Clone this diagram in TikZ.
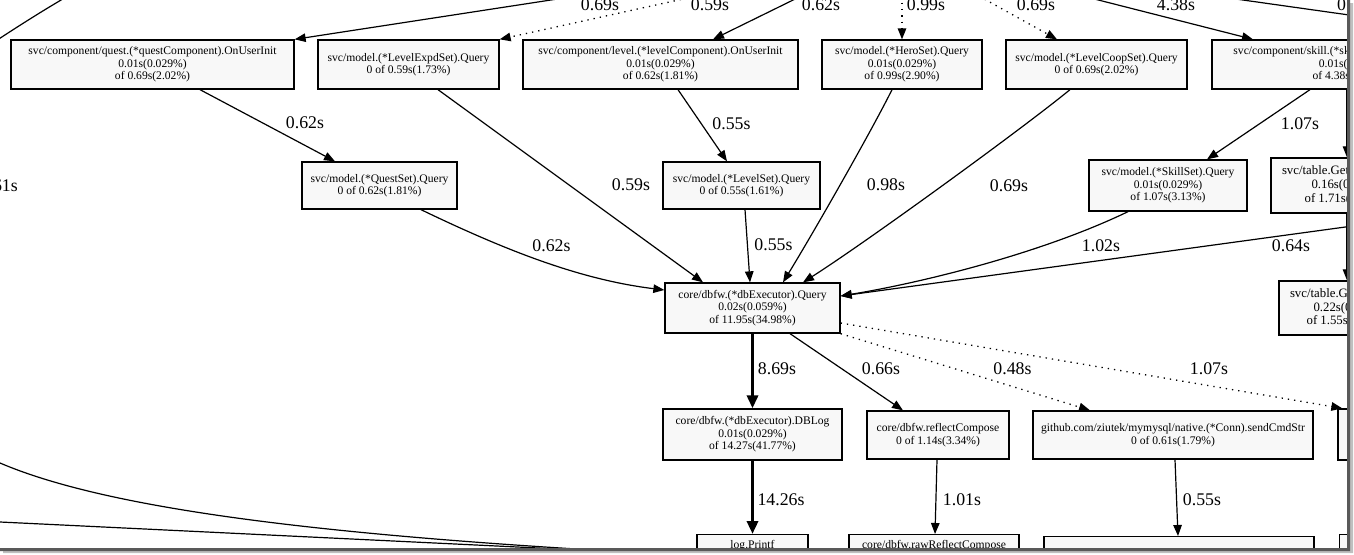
\documentclass[tikz,border=0pt]{standalone}
\usepackage{fontspec}
\setmainfont{Liberation Serif}
\usetikzlibrary{arrows.meta}
\definecolor{nodeFill}{HTML}{F8F8F8}

\begin{document}
\begin{tikzpicture}[x=1pt,y=-1pt,
    >={Triangle[length=11pt,width=8.5pt]},
    fn/.style={draw,line width=1.3pt,fill=nodeFill,align=center,inner sep=0pt,font=\fontsize{11.6}{12.5}\selectfont},
    big/.style={font=\fontsize{12.8}{13.6}\selectfont},
    lbl/.style={inner sep=0pt,font=\fontsize{17.8}{20}\selectfont},
    call/.style={line width=1.2pt},
    hot/.style={line width=3.4pt,-{Triangle[length=13pt,width=11pt]}},
    inl/.style={line width=1.3pt,dash pattern=on 1.3pt off 5pt}]
\useasboundingbox (0,0) rectangle (1354,554);
\begin{scope}
\clip (0,0) rectangle (1347,548);
    \node[fn,minimum width=283,minimum height=49] (questInit) at (152.5,64.5) {svc/component/quest.(*questComponent).OnUserInit\\0.01s(0.029\%)\\of 0.69s(2.02\%)};
    \node[fn,minimum width=181,minimum height=49] (levelExpd) at (408.5,64.5) {svc/model.(*LevelExpdSet).Query\\0 of 0.59s(1.73\%)};
    \node[fn,minimum width=275,minimum height=49] (levelInit) at (660.5,64.5) {svc/component/level.(*levelComponent).OnUserInit\\0.01s(0.029\%)\\of 0.62s(1.81\%)};
    \node[fn,minimum width=160,minimum height=49] (heroSet) at (902,64.5) {svc/model.(*HeroSet).Query\\0.01s(0.029\%)\\of 0.99s(2.90\%)};
    \node[fn,minimum width=181,minimum height=49] (levelCoop) at (1096.5,64.5) {svc/model.(*LevelCoopSet).Query\\0 of 0.69s(2.02\%)};
    \node[fn,minimum width=282,minimum height=49] (skillInit) at (1353,64.5) {svc/component/skill.(*skillComponent).OnUserInit\\0.01s(0.029\%)\\of 4.38s(12.82\%)};
    \node[fn,minimum width=155,minimum height=47] (questSet) at (379.5,185.5) {svc/model.(*QuestSet).Query\\0 of 0.62s(1.81\%)};
    \node[fn,minimum width=157,minimum height=47] (levelSet) at (741.5,185.5) {svc/model.(*LevelSet).Query\\0 of 0.55s(1.61\%)};
    \node[fn,minimum width=158,minimum height=51] (skillSet) at (1168,185.5) {svc/model.(*SkillSet).Query\\0.01s(0.029\%)\\of 1.07s(3.13\%)};
    \node[fn,big,minimum width=150,minimum height=55] (tableGet) at (1346,185.5) {\makebox[128pt][l]{svc/table.Get}\\0.16s(0.47\%)\\of 1.71s(5.01\%)};
    \node[fn,big,minimum width=138,minimum height=54] (tableGetB) at (1348,308) {\makebox[116pt][l]{svc/table.G}\\0.22s(0.64\%)\\of 1.55s(4.54\%)};
    \node[fn,minimum width=175,minimum height=50] (main) at (752.5,308) {core/dbfw.(*dbExecutor).Query\\0.02s(0.059\%)\\of 11.95s(34.98\%)};
    \node[fn,minimum width=179,minimum height=51] (dbLog) at (752.5,434.5) {core/dbfw.(*dbExecutor).DBLog\\0.01s(0.029\%)\\of 14.27s(41.77\%)};
    \node[fn,minimum width=142,minimum height=48] (reflect) at (938,435) {core/dbfw.reflectCompose\\0 of 1.14s(3.34\%)};
    \node[fn,minimum width=280,minimum height=48] (sendCmd) at (1173,435) {github.com/ziutek/mymysql/native.(*Conn).sendCmdStr\\0 of 0.61s(1.79\%)};
    \node[fn,minimum width=160,minimum height=51] (rightCut) at (1418,434.5) {};
    \node[fn,anchor=north,minimum width=111,inner ysep=5pt,text height=9pt,text depth=23pt] (logPrintf) at (752.5,534) {log.Printf};
    \node[fn,anchor=north,minimum width=170,inner ysep=5pt,text height=9pt,text depth=23pt] (rawReflect) at (934,534) {core/dbfw.rawReflectCompose};
    \node[fn,anchor=north,minimum width=270,minimum height=48] (sendNext) at (1179,536) {};
    \node[fn,anchor=north west,minimum width=150,minimum height=48] (bottomCut) at (1339,534) {};

    \coordinate (inQuest) at (616,-10);
    \coordinate (inExpd) at (724,-10);
    \coordinate (inLevel) at (813.5,-10);
    \coordinate (inHero) at (902,-10);
    \coordinate (inCoop) at (968,-10);
    \coordinate (inSkill) at (1059,-10);
    \coordinate (outRightA) at (1172,-10);
    \coordinate (outRightB) at (1420,25);
    \coordinate (inRight) at (1360,225);
    \coordinate (arcTop) at (96,-20);
    \coordinate (arcLeft) at (-30,58);
    \coordinate (leftInA) at (0,463);
    \coordinate (leftInB) at (0,522);

    \node[lbl] (lQuestIn) at (600,5) {0.69s};
    \node[lbl] (lExpdIn) at (710,5) {0.59s};
    \node[lbl] (lLevelIn) at (821,5) {0.62s};
    \node[lbl] (lHeroIn) at (926,5) {0.99s};
    \node[lbl] (lCoopIn) at (1036,5) {0.69s};
    \node[lbl] (lSkillIn) at (1176,5) {4.38s};
    \node[lbl,anchor=west] (lRightOut) at (1337,5) {0.};
    \node[lbl,anchor=east] (lLeftArc) at (18,185.5) {61s};
    \node[lbl] (lQuestSet) at (305,122.5) {0.62s};
    \node[lbl] (lExpdMain) at (631,185) {0.59s};
    \node[lbl] (lLevelSet) at (731.5,123.5) {0.55s};
    \node[lbl] (lLevelMain) at (773.5,245) {0.55s};
    \node[lbl] (lHeroMain) at (886,185) {0.98s};
    \node[lbl] (lCoopMain) at (1009,186) {0.69s};
    \node[lbl] (lSkillSet) at (1300,123.5) {1.07s};
    \node[lbl] (lQuestMain) at (551.5,246) {0.62s};
    \node[lbl] (lSkillMain) at (1101,246) {1.02s};
    \node[lbl] (lRightMain) at (1291,246) {0.64s};
    \node[lbl] (lDbLog) at (777,369) {8.69s};
    \node[lbl] (lReflect) at (881,369) {0.66s};
    \node[lbl] (lSendCmd) at (1012.5,369) {0.48s};
    \node[lbl] (lRightCut) at (1209,369) {1.07s};
    \node[lbl] (lPrintf) at (781,500) {14.26s};
    \node[lbl] (lRawReflect) at (962,500) {1.01s};
    \node[lbl] (lSendNext) at (1202,500) {0.55s};


\draw[->,call] (inQuest) -- (questInit.north east);
\draw[->,inl] (inExpd) -- (levelExpd.north east);
\draw[->,call] (inLevel) -- ([xshift=52.5pt]levelInit.north);
\draw[->,inl] (inHero) -- (heroSet.north);
\draw[->,inl] (inCoop) -- ([xshift=-39.5pt]levelCoop.north);
\draw[->,call] (inSkill) -- ([xshift=-100pt]skillInit.north);
\draw[->,call] (outRightA) -- (outRightB);
\draw[call] (arcTop) .. controls (60,0) and (30,18) .. (arcLeft);
\draw[->,call] (leftInA) .. controls (110,510) and (330,537) .. (logPrintf.west);
\draw[->,call] (leftInB) -- (logPrintf.west);
\draw[->,call] ([xshift=47.5pt]questInit.south) -- ([xshift=-44.5pt]questSet.north);
\draw[->,call] ([xshift=29.5pt]levelExpd.south) -- ([xshift=-49.5pt]main.north);
\draw[->,call] ([xshift=17.5pt]levelInit.south) -- ([xshift=-14.5pt]levelSet.north);
\draw[->,call] ([xshift=3.5pt]levelSet.south) -- ([xshift=-2.5pt]main.north);
\draw[->,call] ([xshift=-10pt]heroSet.south) .. controls (872,130) and (815,230) .. ([xshift=30.5pt]main.north);
\draw[->,call] ([xshift=-26.5pt]levelCoop.south) .. controls (1022,129) and (865,243) .. ([xshift=50.5pt]main.north);
\draw[->,call] ([xshift=-43pt]skillInit.south) -- ([xshift=39pt]skillSet.north);
\draw[->,call] ([xshift=-6pt]skillInit.south) -- ([xshift=1pt]tableGet.north);
\draw[->,call] ([xshift=1pt]tableGet.south) -- ([xshift=-1pt]tableGetB.north);
\draw[->,call] ([xshift=-40pt]skillSet.south) .. controls (1040,254) and (920,283) .. ([yshift=12pt]main.east);
\draw[->,call] (inRight) -- ([yshift=12pt]main.east);
\draw[->,call] ([xshift=41.5pt]questSet.south) .. controls (511,253) and (583,280) .. ([yshift=18pt]main.west);
\draw[hot] (main) -- (dbLog);
\draw[->,call] ([xshift=37.5pt]main.south) -- ([xshift=-35pt]reflect.north);
\draw[->,inl] (main.south east) -- ([xshift=-83pt]sendCmd.north);
\draw[->,inl] ([yshift=-15pt]main.east) -- ([xshift=5pt]rightCut.north west);
\draw[hot] (dbLog) -- (logPrintf);
\draw[->,call] ([xshift=-1pt]reflect.south) -- ([xshift=1pt]rawReflect.north);
\draw[->,call] ([xshift=2pt]sendCmd.south) -- ([xshift=-1pt]sendNext.north);
\end{scope}

\fill[black!25] (1350,3) rectangle (1353,553) (3,551) rectangle (1353,553);
\fill[black!65] (1347,0) rectangle (1350,551) (0,548) rectangle (1350,551);

\end{tikzpicture}
\end{document}
